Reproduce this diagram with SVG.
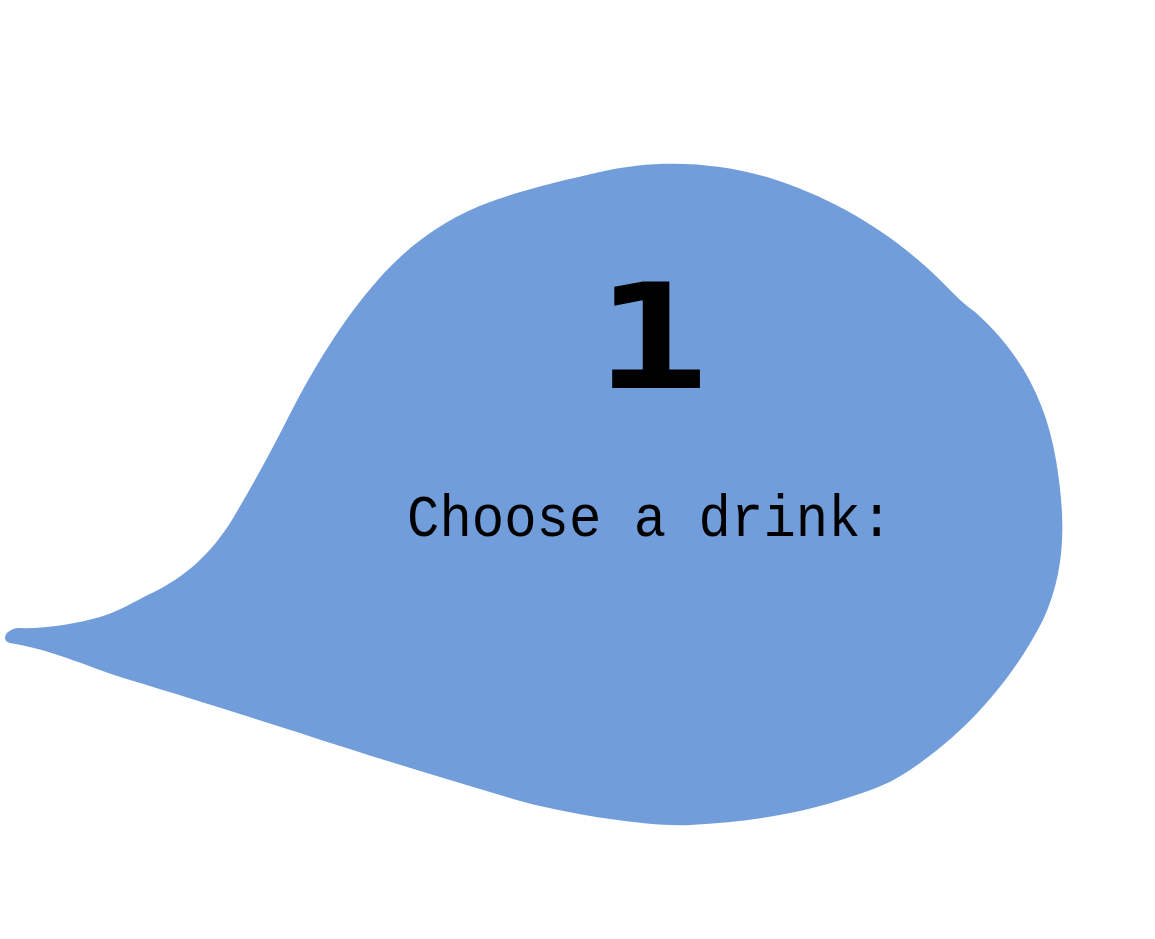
<svg xmlns="http://www.w3.org/2000/svg" width="1155" height="939" viewBox="0 0 1155 939">
<style>
.bubble{fill:#729ddb;}
.num{font-family:"DejaVu Sans Mono","Liberation Mono",monospace;font-weight:bold;font-size:146px;fill:#000;}
.label{font-family:"Liberation Mono","DejaVu Sans Mono",monospace;font-size:60px;fill:#000;}
</style>
<rect width="1155" height="939" fill="#ffffff"/>
<g id="bubble-node">
<path class="bubble" d="M 18,628 C 45,629 75,624 100,617 C 118,612 135,601 152,593 C 185,577 210,555 232,520 C 252,486 272,450 290,414 C 320,356 350,310 385,272 C 420,235 455,215 490,202 C 525,189 565,180 600,172 C 660,158 720,163 770,178 C 840,200 900,238 950,290 C 958,298 965,305 975,312 C 1020,352 1046,400 1056,460 C 1066,520 1066,570 1043,620 C 1010,685 960,737 910,770 C 895,780 882,786 868,791 C 810,812 755,822 690,825 C 665,826 640,823 610,819 C 570,813 535,806 500,795 C 430,774 360,753 300,733 C 240,714 180,695 130,680 C 95,670 55,650 10,643 C 2,642 3,630 18,628 Z"/>
<text class="num" x="0" y="0" text-anchor="middle" transform="translate(652,388) scale(1.3,1)">1</text>
<text class="label" x="407" y="536" textLength="486" lengthAdjust="spacingAndGlyphs">Choose a drink:</text>
</g>
<g id="connectors"></g>
</svg>
